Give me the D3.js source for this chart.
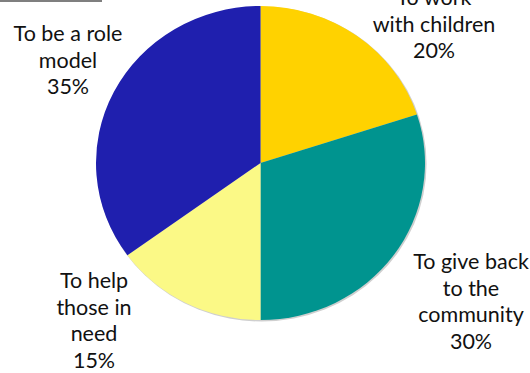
<!DOCTYPE html>
<html lang="en">
  <head>
    <meta charset="utf-8" />
    <title>Reasons</title>
    <script src="https://cdn.jsdelivr.net/npm/d3@7"></script>
    <style>
      body {
        margin: 0;
        background: #fff;
      }
      .label {
        font-family: Lato, "Open Sans", sans-serif;
        font-size: 21.5px;
        fill: #111;
        text-anchor: middle;
      }
    </style>
  </head>
  <body>
    <svg id="chart" width="530" height="373"></svg>
    <script>
      // data
      const categories = [
        "To work with children",
        "To give back to the community",
        "To help those in need",
        "To be a role model",
      ];
      const values = [20, 30, 15, 35];
      const labelLines = [
        ["To work", "with children"],
        ["To give back", "to the", "community"],
        ["To help", "those in", "need"],
        ["To be a role", "model"],
      ];
      const colors = ["#ffd200", "#00948f", "#fbf986", "#1f1fae"];

      const svg = d3.select("#chart");
      const cx = 260.5, cy = 163;
      const rx = 164.5, ry = 157;

      // little rule top left
      svg.append("line")
        .attr("x1", 0).attr("x2", 102)
        .attr("y1", 1).attr("y2", 1)
        .attr("stroke", "#555")
        .attr("stroke-width", 1.5);

      const pie = d3.pie().sort(null).value((d) => d);
      const arcs = pie(values);
      const arc = d3.arc().innerRadius(0).outerRadius(ry);

      const g = svg.append("g")
        .attr("transform", `translate(${cx},${cy}) scale(${rx / ry},1)`);

      // faint shadow edge
      g.append("circle")
        .attr("cx", 1).attr("cy", 1)
        .attr("r", ry + 0.5)
        .attr("fill", "#cfcfcf");

      g.selectAll("path.slice")
        .data(arcs)
        .join("path")
        .attr("class", "slice")
        .attr("d", arc)
        .attr("fill", (d, i) => colors[i]);

      // label centres, placed by hand like the original
      const labelPos = [
        [434, 5],
        [471, 269],
        [94, 288],
        [68, 41],
      ];
      const lineH = 26.5;

      arcs.forEach((a, i) => {
        const lines = labelLines[i].concat([values[i] + "%"]);
        const t = svg.append("text")
          .attr("class", "label")
          .attr("x", labelPos[i][0])
          .attr("y", labelPos[i][1]);
        lines.forEach((s, j) => {
          t.append("tspan")
            .attr("x", labelPos[i][0])
            .attr("dy", j === 0 ? 0 : lineH)
            .text(s);
        });
      });
    </script>
  </body>
</html>
